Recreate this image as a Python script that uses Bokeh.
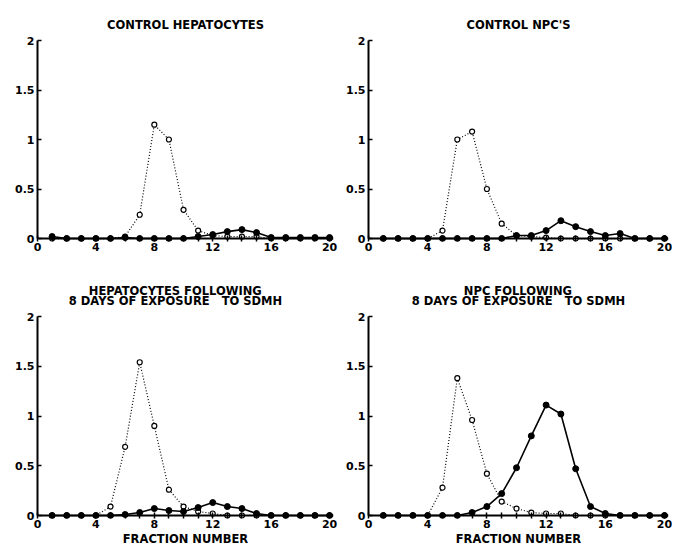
from bokeh.plotting import figure
from bokeh.layouts import row, column
from bokeh.models import FixedTicker, Range1d, Span
from bokeh.embed import file_html
from bokeh.resources import INLINE

fractions = list(range(1, 21))

NB = "\u00a0"
titles = [
    "CONTROL HEPATOCYTES",
    "CONTROL NPC'S",
    NB * 5 + "HEPATOCYTES FOLLOWING\n8 DAYS OF EXPOSURE" + NB * 3 + "TO SDMH" + NB * 5,
    NB * 13 + "NPC FOLLOWING\n8 DAYS OF EXPOSURE" + NB * 3 + "TO SDMH",
]

open_ctrl_hep = [0, 0, 0, 0, 0, 0.02, 0.24, 1.15, 1.0, 0.29, 0.08, 0.03, 0.02, 0.02, 0.02, 0, 0, 0, 0, 0]
open_ctrl_npc = [0, 0, 0, 0, 0.08, 1.0, 1.08, 0.50, 0.15, 0.03, 0.02, 0.01, 0, 0, 0, 0, 0, 0, 0, 0]
open_sdmh_hep = [0, 0, 0, 0, 0.09, 0.69, 1.54, 0.90, 0.26, 0.09, 0.04, 0.02, 0, 0, 0, 0, 0, 0, 0, 0]
open_sdmh_npc = [0, 0, 0, 0, 0.28, 1.38, 0.96, 0.42, 0.14, 0.07, 0.03, 0.02, 0.02, 0, 0, 0, 0, 0, 0, 0]

fill_ctrl_hep = [0.02, 0, 0, 0, 0, 0.01, 0, 0, 0, 0, 0.02, 0.04, 0.07, 0.09, 0.06, 0.01, 0.01, 0.01, 0.01, 0.01]
fill_ctrl_npc = [0, 0, 0, 0, 0, 0, 0, 0, 0, 0.03, 0.03, 0.08, 0.18, 0.12, 0.07, 0.03, 0.05, 0, 0, 0]
fill_sdmh_hep = [0, 0, 0, 0, 0, 0.01, 0.03, 0.07, 0.05, 0.04, 0.08, 0.13, 0.09, 0.07, 0.02, 0, 0, 0, 0, 0]
fill_sdmh_npc = [0, 0, 0, 0, 0, 0, 0.03, 0.09, 0.22, 0.48, 0.80, 1.11, 1.02, 0.47, 0.09, 0.02, 0, 0, 0, 0]

x_ticks = list(range(0, 21))
x_labels = {i: (str(i) if i % 4 == 0 else "") for i in x_ticks}
y_ticks = [0, 0.5, 1, 1.5, 2]
y_labels = {0: "0", 0.5: "0.5", 1: "1", 1.5: "1.5", 2: "2"}

FONT = "DejaVu Sans"


def make_panel(title, xo, xf, width, height, bl, br, bt, bb, t_standoff, xlabel=None):
    p = figure(width=width, height=height, output_backend="svg", toolbar_location=None,
               x_range=Range1d(0, 20.27), y_range=Range1d(-0.03, 2.0),
               min_border_left=bl, min_border_right=br, min_border_top=bt, min_border_bottom=bb)
    p.outline_line_color = None
    p.xgrid.visible = False
    p.ygrid.visible = False
    p.background_fill_color = "white"
    p.border_fill_color = "white"

    p.title.text = title
    p.title.align = "center"
    p.title.text_font = FONT
    p.title.text_font_style = "bold"
    p.title.text_font_size = "11.5px"
    p.title.text_color = "black"
    p.title.standoff = t_standoff
    p.title.text_line_height = 0.72

    xa = p.xaxis[0]
    xa.ticker = FixedTicker(ticks=x_ticks)
    xa.major_label_overrides = x_labels
    xa.major_tick_in = 6
    xa.major_tick_out = 0
    xa.minor_tick_line_color = None
    xa.axis_line_color = None
    xa.major_tick_line_width = 1.5
    xa.major_label_standoff = 1
    xa.major_label_text_font = FONT
    xa.major_label_text_font_style = "bold"
    xa.major_label_text_font_size = "11px"
    xa.major_label_text_color = "black"
    if xlabel:
        xa.axis_label = xlabel
        xa.axis_label_standoff = 1
        xa.axis_label_text_font = FONT
        xa.axis_label_text_font_style = "bold"
        xa.axis_label_text_font_size = "11.5px"
        xa.axis_label_text_color = "black"

    ya = p.yaxis[0]
    ya.bounds = (0, 2)
    ya.ticker = FixedTicker(ticks=y_ticks)
    ya.major_label_overrides = y_labels
    ya.major_tick_in = 4
    ya.major_tick_out = 0
    ya.minor_tick_line_color = None
    ya.axis_line_width = 2
    ya.major_tick_line_width = 1.5
    ya.major_label_standoff = 3
    ya.major_label_text_font = FONT
    ya.major_label_text_font_style = "bold"
    ya.major_label_text_font_size = "11px"
    ya.major_label_text_color = "black"

    p.add_layout(Span(location=0, dimension="width", line_color="black", line_width=2))

    p.line(fractions, xo, line_color="black", line_width=1.2, line_dash="1 2")
    p.scatter(fractions, xo, marker="circle", size=5, fill_color="white",
              line_color="black", line_width=1.2)
    p.line(fractions, xf, line_color="black", line_width=1.6)
    p.scatter(fractions, xf, marker="circle", size=6, fill_color="black",
              line_color="black")
    return p


p1 = make_panel(titles[0], open_ctrl_hep, fill_ctrl_hep, 343, 270, 37, 10, 40, 29, 18)
p2 = make_panel(titles[1], open_ctrl_npc, fill_ctrl_npc, 329, 270, 23, 4, 40, 29, 18)
p3 = make_panel(titles[2], open_sdmh_hep, fill_sdmh_hep, 343, 278, 37, 10, 46, 28, 16, "FRACTION NUMBER")
p4 = make_panel(titles[3], open_sdmh_npc, fill_sdmh_npc, 329, 278, 23, 4, 46, 28, 16, "FRACTION NUMBER")

layout = row(column(p1, p3), column(p2, p4))
open("out.html", "w").write(file_html(layout, INLINE))
